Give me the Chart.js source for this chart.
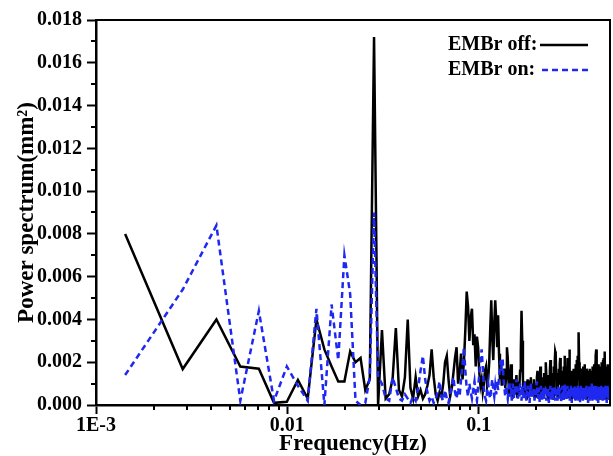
<!DOCTYPE html>
<html>
<head>
<meta charset="utf-8">
<script src="https://cdn.jsdelivr.net/npm/chart.js@4.4.1/dist/chart.umd.min.js"></script>
<style>
html, body { margin: 0; padding: 0; background: #fff; }
</style>
</head>
<body>
<canvas id="grafico" width="613" height="456"></canvas>
<script>
// spectrum bins: bin k sits at k * binWidth Hz
const binWidth = 0.00142;

const offPower = [
    0.0080, 0.00168, 0.0040, 0.0018, 0.0017, 0.0001, 0.00015, 0.00117, 0.0003, 0.0040,
    0.0026, 0.0018, 0.0011, 0.0011, 0.0025, 0.0020, 0.0022, 0.0007, 0.0012, 0.0172,
    0.0000, 0.0035, 0.0003, 0.0005, 0.0012, 0.0036, 0.0007, 0.0004, 0.0013, 0.0040,
    0.0008, 0.0003, 0.0013, 0.0004, 0.0007, 0.0003, 0.0005, 0.0009, 0.0014, 0.0026,
    0.0013, 0.0005, 0.0002, 0.0006, 0.0004, 0.0010, 0.0020, 0.0023, 0.0012, 0.0004,
    0.0008, 0.0015, 0.0022, 0.0027, 0.0010, 0.0015, 0.0024, 0.0012, 0.0020, 0.0035,
    0.0053, 0.0046, 0.0030, 0.0041, 0.0045, 0.0028, 0.0033, 0.0018, 0.0032, 0.0027,
    0.0015, 0.0009, 0.0012, 0.0006, 0.0010, 0.0016, 0.0018, 0.0009, 0.0012, 0.0020,
    0.0036, 0.0049, 0.0031, 0.0021, 0.0038, 0.0049, 0.0040, 0.0027, 0.0042, 0.0024,
    0.0012, 0.0020, 0.0009, 0.0014, 0.0010, 0.0017, 0.0008, 0.0013, 0.0027, 0.0022,
    0.0010, 0.0004, 0.0013, 0.0019, 0.0011, 0.0003, 0.0009, 0.0012, 0.0005, 0.0010,
    0.0014, 0.0004, 0.0011, 0.0006, 0.0009, 0.0016, 0.0025, 0.0044, 0.0030, 0.0012,
    0.0004, 0.0011, 0.0007, 0.0010, 0.0003, 0.0009, 0.0012, 0.0005, 0.0010, 0.0008,
    0.0011, 0.0013, 0.0004, 0.0010, 0.0006, 0.0009, 0.0012, 0.0003, 0.0006, 0.0010,
    0.0004, 0.0013, 0.0016, 0.0010, 0.0003, 0.0014, 0.0011, 0.0018, 0.0012, 0.0004,
    0.0011, 0.0007, 0.0013, 0.0003, 0.0015, 0.0009, 0.0012, 0.0020, 0.0014, 0.0004,
    0.0008, 0.0012, 0.0003, 0.0014, 0.0011, 0.0016, 0.0021, 0.0013, 0.0004, 0.0012,
    0.0008, 0.0015, 0.0003, 0.0018, 0.0013, 0.0020, 0.0025, 0.0024, 0.0015, 0.0005,
    0.0012, 0.0003, 0.0014, 0.0010, 0.0017, 0.0012, 0.0019, 0.0022, 0.0014, 0.0004,
    0.0012, 0.0016, 0.0005, 0.0013, 0.0003, 0.0018, 0.0014, 0.0021, 0.0023, 0.0013,
    0.0004, 0.0015, 0.0011, 0.0018, 0.0003, 0.0022, 0.0014, 0.0007, 0.0020, 0.0026,
    0.0015, 0.0004, 0.0011, 0.0013, 0.0003, 0.0016, 0.0012, 0.0005, 0.0014, 0.0011,
    0.0017, 0.0004, 0.0013, 0.0015, 0.0003, 0.0019, 0.0014, 0.0005, 0.0021, 0.0016,
    0.0012, 0.0023, 0.0018, 0.0029, 0.0034, 0.0020, 0.0004, 0.0010, 0.0015, 0.0003,
    0.0017, 0.0013, 0.0005, 0.0014, 0.0011, 0.0016, 0.0003, 0.0018, 0.0014, 0.0006,
    0.0015, 0.0019, 0.0004, 0.0013, 0.0012, 0.0015, 0.0003, 0.0013, 0.0017, 0.0006,
    0.0011, 0.0014, 0.0004, 0.0016, 0.0010, 0.0013, 0.0015, 0.0017, 0.0003, 0.0012,
    0.0014, 0.0005, 0.0016, 0.0012, 0.0003, 0.0015, 0.0011, 0.0018, 0.0013, 0.0004,
    0.0016, 0.0012, 0.0019, 0.0003, 0.0014, 0.0017, 0.0021, 0.0015, 0.0023, 0.0026,
    0.0017, 0.0004, 0.0012, 0.0014, 0.0003, 0.0016, 0.0012, 0.0019, 0.0014, 0.0005,
    0.0015, 0.0012, 0.0018, 0.0003, 0.0013, 0.0015, 0.0006, 0.0017, 0.0013, 0.0020,
    0.0004, 0.0014, 0.0016, 0.0012, 0.0021, 0.0003, 0.0015, 0.0022, 0.0018, 0.0014,
    0.0021, 0.0025, 0.0005, 0.0016, 0.0011, 0.0015, 0.0003, 0.0018, 0.0013, 0.0016,
    0.0005, 0.0019, 0.0014, 0.0011, 0.0017, 0.0003, 0.0013, 0.0015, 0.0012, 0.0018,
    0.0014, 0.0004, 0.0016, 0.0013, 0.0010
];

const onPower = [
    0.0014, 0.0054, 0.0084, 0.0002, 0.0044, 0.0002, 0.0018, 0.0009, 0.0002, 0.0045,
    0.0000, 0.0047, 0.0021, 0.0070, 0.0052, 0.0002, 0.0000, 0.0001, 0.0013, 0.0090,
    0.0013, 0.0010, 0.0003, 0.0002, 0.0013, 0.0008, 0.0003, 0.0002, 0.0005, 0.0003,
    0.0001, 0.0004, 0.0002, 0.0008, 0.0016, 0.0023, 0.0012, 0.0006, 0.0002, 0.0004,
    0.0001, 0.0003, 0.0006, 0.0011, 0.0004, 0.0002, 0.0007, 0.0003, 0.0001, 0.0005,
    0.0009, 0.0013, 0.0006, 0.0003, 0.0008, 0.0004, 0.0012, 0.0019, 0.0027, 0.0016,
    0.0008, 0.0004, 0.0010, 0.0006, 0.0003, 0.0007, 0.0011, 0.0005, 0.0002, 0.0009,
    0.0014, 0.0021, 0.0026, 0.0018, 0.0008, 0.0004, 0.0002, 0.0006, 0.0010, 0.0005,
    0.0003, 0.0008, 0.0012, 0.0007, 0.0004, 0.0009, 0.0005, 0.0011, 0.0007, 0.0013,
    0.0017, 0.0021, 0.0016, 0.0022, 0.0012, 0.0008, 0.0004, 0.0009, 0.0006, 0.0003,
    0.0007, 0.0011, 0.0004, 0.0008, 0.0002, 0.0010, 0.0006, 0.0003, 0.0009, 0.0005,
    0.0012, 0.0007, 0.0003, 0.0008, 0.0004, 0.0010, 0.0006, 0.0002, 0.0009, 0.0005,
    0.0003, 0.0008, 0.0011, 0.0006, 0.0002, 0.0007, 0.0004, 0.0009, 0.0005, 0.0001,
    0.0006, 0.0010, 0.0004, 0.0007, 0.0003, 0.0008, 0.0005, 0.0002, 0.0007, 0.0004,
    0.0009, 0.0011, 0.0006, 0.0003, 0.0008, 0.0004, 0.0001, 0.0006, 0.0009, 0.0005,
    0.0002, 0.0007, 0.0004, 0.0008, 0.0003, 0.0006, 0.0009, 0.0005, 0.0002, 0.0007,
    0.0004, 0.0008, 0.0005, 0.0001, 0.0006, 0.0003, 0.0009, 0.0006, 0.0002, 0.0007,
    0.0004, 0.0008, 0.0003, 0.0006, 0.0009, 0.0005, 0.0002, 0.0007, 0.0004, 0.0008,
    0.0005, 0.0002, 0.0006, 0.0009, 0.0004, 0.0007, 0.0003, 0.0008, 0.0005, 0.0001,
    0.0006, 0.0004, 0.0009, 0.0005, 0.0002, 0.0007, 0.0004, 0.0010, 0.0006, 0.0003,
    0.0008, 0.0005, 0.0002, 0.0006, 0.0009, 0.0004, 0.0007, 0.0003, 0.0008, 0.0005,
    0.0002, 0.0006, 0.0004, 0.0009, 0.0005, 0.0001, 0.0007, 0.0004, 0.0008, 0.0005,
    0.0003, 0.0007, 0.0004, 0.0009, 0.0006, 0.0002, 0.0008, 0.0005, 0.0003, 0.0007,
    0.0004, 0.0009, 0.0006, 0.0002, 0.0007, 0.0004, 0.0008, 0.0005, 0.0001, 0.0006,
    0.0009, 0.0004, 0.0007, 0.0003, 0.0008, 0.0005, 0.0002, 0.0006, 0.0009, 0.0004,
    0.0007, 0.0003, 0.0008, 0.0005, 0.0002, 0.0007, 0.0004, 0.0009, 0.0006, 0.0003,
    0.0008, 0.0005, 0.0001, 0.0006, 0.0004, 0.0009, 0.0005, 0.0002, 0.0007, 0.0004,
    0.0008, 0.0005, 0.0003, 0.0007, 0.0010, 0.0006, 0.0002, 0.0008, 0.0004, 0.0007,
    0.0003, 0.0009, 0.0005, 0.0002, 0.0006, 0.0008, 0.0004, 0.0007, 0.0003, 0.0009,
    0.0006, 0.0002, 0.0007, 0.0004, 0.0008, 0.0005, 0.0001, 0.0006, 0.0009, 0.0004,
    0.0007, 0.0003, 0.0008, 0.0005, 0.0002, 0.0007, 0.0004, 0.0009, 0.0006, 0.0003,
    0.0008, 0.0005, 0.0002, 0.0006, 0.0009, 0.0004, 0.0007, 0.0003, 0.0008, 0.0005,
    0.0002, 0.0007, 0.0004, 0.0009, 0.0006, 0.0003, 0.0008, 0.0005, 0.0001, 0.0006,
    0.0009, 0.0004, 0.0007, 0.0003, 0.0008, 0.0005, 0.0002, 0.0007, 0.0004, 0.0009,
    0.0006, 0.0003, 0.0008, 0.0005, 0.0002
];

const xTickValues = [0.001, 0.01, 0.1];
const xTickLabels = ['1E-3', '0.01', '0.1'];
const seriesNames = ['EMBr off:', 'EMBr on:'];
const seriesColors = ['#000000', '#1e28f0'];

const fonte = "'Liberation Serif', 'Times New Roman', serif";

function paraPontos(valores) {
    return valores.map((v, i) => ({ x: (i + 1) * binWidth, y: v }));
}

// moldura de cima/direita, ticks menores e legenda
const extras = {
    id: 'extras',
    afterDraw(chart) {
        const { ctx, chartArea: a, scales } = chart;
        ctx.save();
        ctx.strokeStyle = '#000';
        ctx.lineWidth = 2;
        ctx.beginPath();
        ctx.moveTo(a.left, a.top);
        ctx.lineTo(a.right, a.top);
        ctx.lineTo(a.right, a.bottom);
        ctx.stroke();

        ctx.beginPath();
        for (let v = 0.001; v < 0.018; v += 0.002) {
            const py = Math.round(scales.y.getPixelForValue(v));
            ctx.moveTo(a.left - 5, py);
            ctx.lineTo(a.left, py);
        }
        for (let d = 0.001; d < 1; d *= 10) {
            for (let m = 2; m <= 9; m++) {
                const v = m * d;
                if (v > scales.x.max) break;
                const px = Math.round(scales.x.getPixelForValue(v));
                ctx.moveTo(px, a.bottom);
                ctx.lineTo(px, a.bottom + 5);
            }
        }
        ctx.stroke();

        ctx.font = 'bold 20px ' + fonte;
        ctx.textBaseline = 'middle';
        ctx.fillStyle = '#000';
        const linhas = [a.top + 25, a.top + 50];
        seriesNames.forEach((nome, i) => {
            ctx.fillText(nome, a.left + 352, linhas[i]);
            ctx.beginPath();
            ctx.strokeStyle = seriesColors[i];
            ctx.lineWidth = 2.5;
            ctx.setLineDash(i === 1 ? [6, 4] : []);
            ctx.moveTo(a.left + (i === 1 ? 446 : 444), linhas[i]);
            ctx.lineTo(a.left + 492, linhas[i]);
            ctx.stroke();
        });
        ctx.restore();
    }
};

new Chart(document.getElementById('grafico').getContext('2d'), {
    type: 'line',
    data: {
        datasets: [
            {
                label: seriesNames[0],
                data: paraPontos(offPower),
                borderColor: seriesColors[0],
                borderWidth: 2.5,
                pointRadius: 0,
                tension: 0,
                order: 2
            },
            {
                label: seriesNames[1],
                data: paraPontos(onPower),
                borderColor: seriesColors[1],
                borderWidth: 2.5,
                borderDash: [6, 4],
                pointRadius: 0,
                tension: 0,
                order: 1
            }
        ]
    },
    options: {
        responsive: false,
        animation: false,
        devicePixelRatio: 1,
        layout: { padding: { top: 20, right: 3, left: 0, bottom: 0 } },
        plugins: { legend: { display: false }, tooltip: { enabled: false } },
        scales: {
            x: {
                type: 'logarithmic',
                min: 0.001,
                max: 0.486,
                afterBuildTicks: s => { s.ticks = xTickValues.map(v => ({ value: v })); },
                afterFit: s => { s.height = 51; },
                ticks: {
                    autoSkip: false,
                    maxRotation: 0,
                    padding: 0,
                    color: '#000',
                    font: { family: fonte, size: 20, weight: 'bold' },
                    callback: (v, i) => xTickLabels[i]
                },
                grid: { drawOnChartArea: false, tickLength: 9, tickWidth: 2, tickColor: '#000' },
                border: { color: '#000', width: 2.5 },
                title: {
                    display: true,
                    text: 'Frequency(Hz)',
                    color: '#000',
                    font: { family: fonte, size: 23, weight: 'bold', lineHeight: 1 },
                    padding: 0
                }
            },
            y: {
                min: 0,
                max: 0.018,
                afterFit: s => { s.width = 96; },
                ticks: {
                    stepSize: 0.002,
                    padding: 5,
                    color: '#000',
                    font: { family: fonte, size: 20, weight: 'bold' },
                    callback: v => Number(v).toFixed(3)
                },
                grid: { drawOnChartArea: false, tickLength: 9, tickWidth: 2, tickColor: '#000' },
                border: { color: '#000', width: 2.5 },
                title: {
                    display: true,
                    text: 'Power spectrum(mm²)',
                    color: '#000',
                    font: { family: fonte, size: 23, weight: 'bold', lineHeight: 1 },
                    padding: { top: 16, bottom: 0 }
                }
            }
        }
    },
    plugins: [extras]
});
</script>
</body>
</html>
